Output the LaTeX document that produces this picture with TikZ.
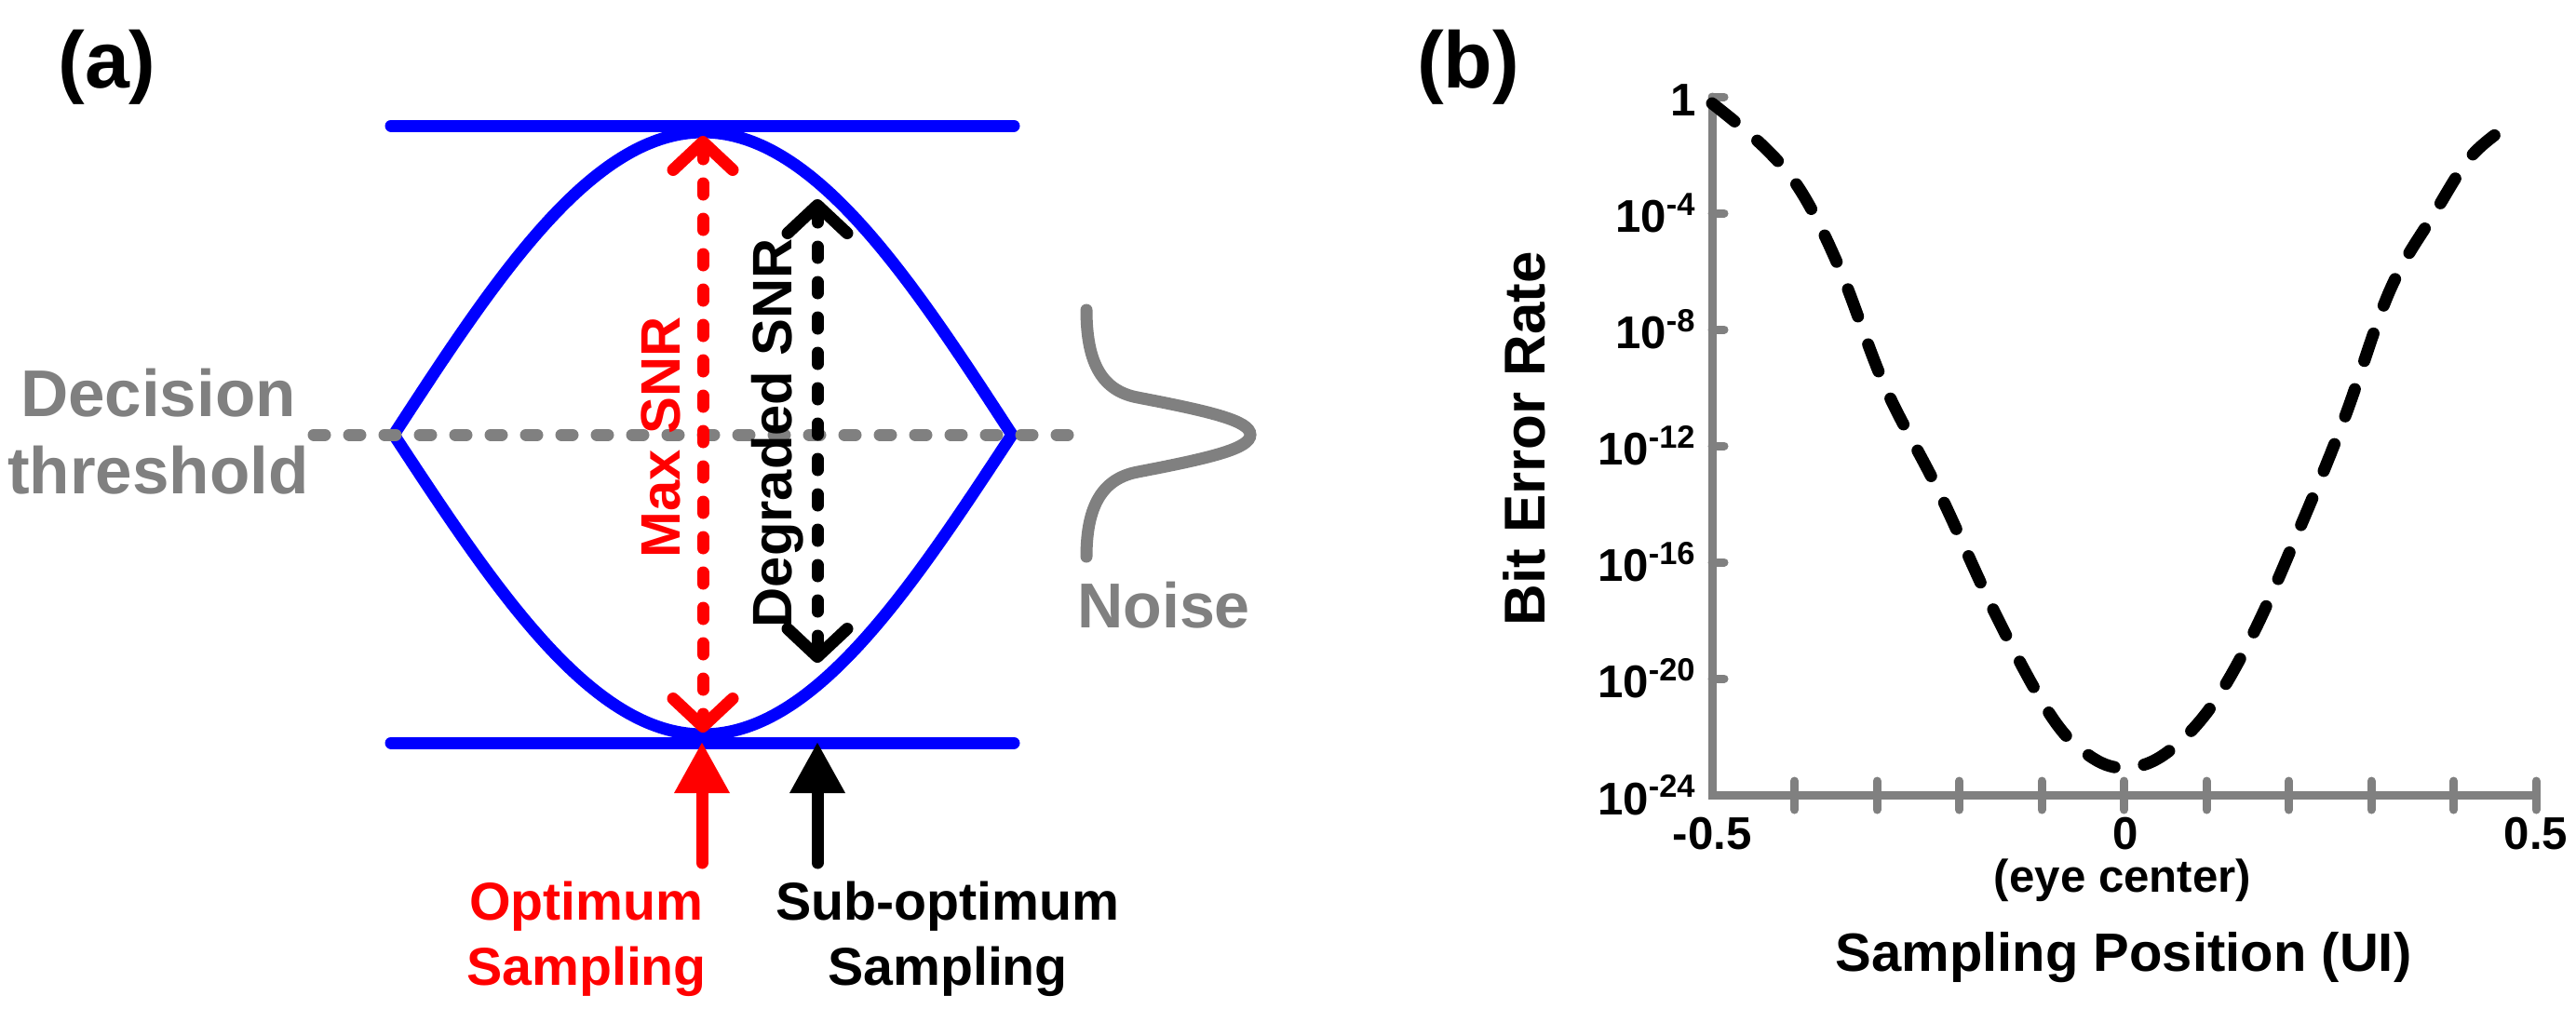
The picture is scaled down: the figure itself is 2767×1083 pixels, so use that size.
\documentclass[tikz,border=0pt]{standalone}
\usepackage{fontspec}
\setmainfont{Liberation Sans}
\usetikzlibrary{arrows.meta}
\definecolor{gr}{RGB}{128,128,128}
\begin{document}
\begin{tikzpicture}[x=0.1mm,y=-0.1mm,
  blue line/.style={draw=blue,line width=1.3mm,line cap=round},
  dsh/.style={line width=1.3mm,line cap=round,dash pattern=on 1.2mm off 2.6mm},
  barb/.style={{Straight Barb[length=3mm,width=6.4mm,line cap=round,line join=round]}-{Straight Barb[length=3mm,width=6.4mm,line cap=round,line join=round]}},
  solidarr/.style={line width=1.3mm,line cap=round,-{Triangle[length=5.5mm,width=5.6mm]}},
  lab/.style={font=\bfseries\fontsize{#1}{#1}\selectfont,inner sep=0pt},
  axis/.style={draw=gr,line width=0.9mm,line cap=round},
  tick/.style={draw=gr,line width=0.9mm,line cap=round}]
\useasboundingbox (0,0) rectangle (2767,1083);
% ---------- panel (a)
\node[lab=24.5pt] (la) at (115,72) {(a)};
\coordinate (tl) at (420,135); \coordinate (tr) at (1089,135);
\coordinate (bl) at (420,798); \coordinate (br) at (1089,798);
\draw[blue line] (tl) -- (tr);
\draw[blue line] (bl) -- (br);
\draw[blue line,line join=miter] plot[domain=-1:1,samples=81,smooth] ({755+332*\x},{467-325*cos(90*\x)})
  -- plot[domain=1:-1,samples=81,smooth] ({755+332*\x},{467+322*cos(90*\x)}) -- cycle;
\coordinate (th1) at (337,467); \coordinate (th2) at (1152,467);
\draw[gr,dsh] (th1) -- (th2);
\node[lab=20.2pt,text=gr,anchor=base] (dec1) at (170,447) {Decision};
\node[lab=20.2pt,text=gr,anchor=base] (dec2) at (170,530) {threshold};
% noise
\coordinate (n1) at (1167,333); \coordinate (n2) at (1222,427); \coordinate (np) at (1343,467);
\coordinate (n3) at (1222,507); \coordinate (n4) at (1167,598);
\draw[gr,line width=1.3mm,line cap=round] (n1) .. controls (1167,392) and (1185,420) .. (n2)
  .. controls (1300,442) and (1343,452) .. (np)
  .. controls (1343,482) and (1300,492) .. (n3)
  .. controls (1185,514) and (1167,542) .. (n4);
\node[lab=19.4pt,text=gr,anchor=base] (noise) at (1250,674) {Noise};
% SNR arrows
\coordinate (r1) at (755,146); \coordinate (r2) at (755,787);
\draw[red,dsh,barb] (r1) -- (r2);
\node[lab=17pt,text=red,rotate=90] (max) at (710,470) {Max SNR};
\coordinate (k1) at (878,214); \coordinate (k2) at (878,712);
\draw[black,dsh,barb] (k1) -- (k2);
\node[lab=17pt,rotate=90] (deg) at (835,465) {Degraded SNR};
% sampling arrows
\coordinate (ra) at (754,927); \coordinate (rb) at (754,797);
\draw[red,solidarr] (ra) -- (rb);
\coordinate (ka) at (878,927); \coordinate (kb) at (878,797);
\draw[black,solidarr] (ka) -- (kb);
\node[lab=16.3pt,text=red,anchor=base] (opt1) at (630,988) {Optimum};
\node[lab=16.3pt,text=red,anchor=base] (opt2) at (630,1058) {Sampling};
\node[lab=16.3pt,anchor=base] (sub1) at (1018,988) {Sub-optimum};
\node[lab=16.3pt,anchor=base] (sub2) at (1018,1058) {Sampling};
% ---------- panel (b)
\node[lab=24.5pt] (lb) at (1577,72) {(b)};
\coordinate (o) at (1839,854); \coordinate (yt) at (1839,104); \coordinate (xr) at (2724,854);
\foreach \i in {1,...,10} {\draw[tick] ({1839+88.5*\i},839) -- ({1839+88.5*\i},870);}
\foreach \y in {104,229,354,479,604,729} {\draw[tick] (1839,\y) -- (1852,\y);}
\draw[axis] (yt) -- (o) -- (xr);
\foreach \y/\t in {229/-4,354/-8,479/-12,604/-16,729/-20,854/-24}
  {\node[lab=14pt,anchor=east] at (1823,\y) {10\textsuperscript{\t}};}
\node[lab=14pt,anchor=east] (y0) at (1823,108) {1};
\node[lab=14pt,anchor=base] (xm) at (1839,912) {-0.5};
\node[lab=14pt,anchor=base] (x0) at (2283,912) {0};
\node[lab=14pt,anchor=base] (xp) at (2724,912) {0.5};
\node[lab=14pt,anchor=base] (eye) at (2280,958) {(eye center)};
\node[lab=16.5pt,anchor=base] (xl) at (2281,1043) {Sampling Position (UI)};
\node[lab=17.6pt,rotate=90] (yl) at (1637,471) {Bit Error Rate};
\draw[black,line width=1.3mm,line cap=round,dash pattern=on 3.1mm off 3.2mm]
  plot[smooth,tension=0.6] coordinates {(1839,111) (1896,159) (1936,208) (1977,291) (2025,416) (2082,527) (2146,665) (2203,769) (2243,811) (2281,825) (2324,811) (2373,762) (2421,679) (2470,568) (2518,450) (2567,312) (2615,229) (2656,166) (2704,128)};
\end{tikzpicture}
\end{document}
